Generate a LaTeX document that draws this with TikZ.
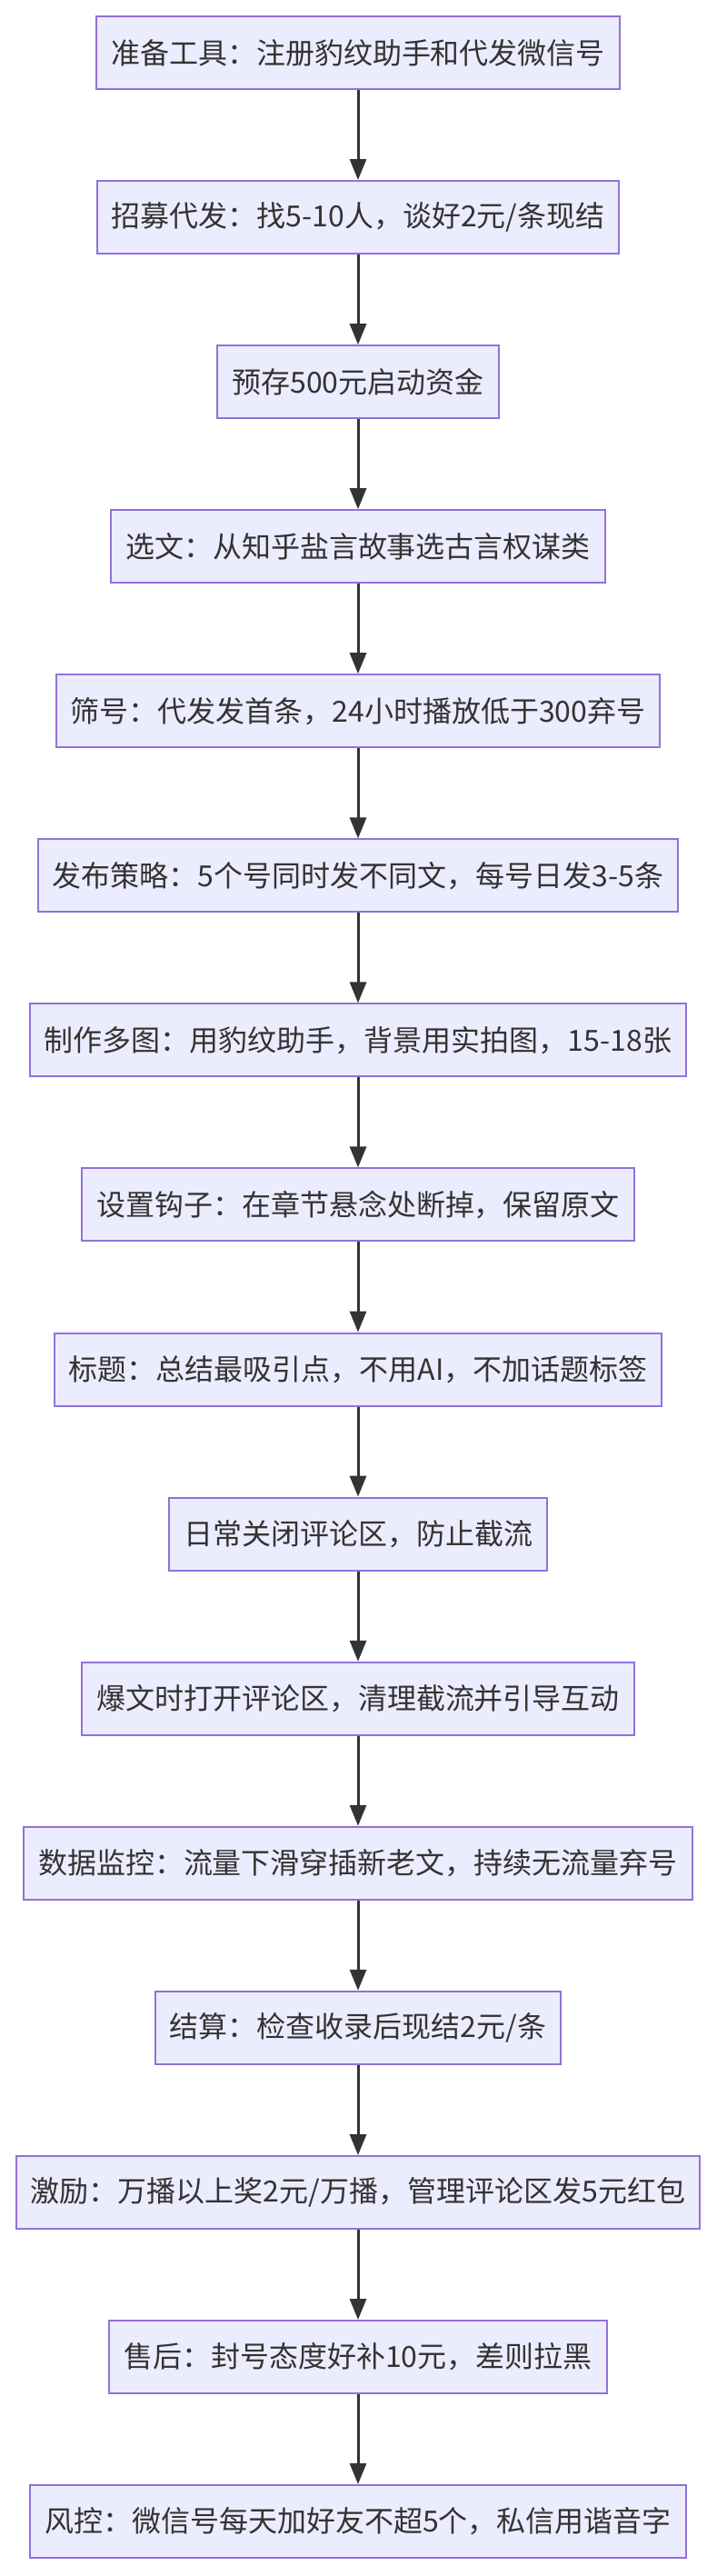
\documentclass[tikz,border=0pt]{standalone}
\usepackage{fontspec}
\newfontfamily\cjk{Noto Sans CJK SC}
\usetikzlibrary{arrows.meta}
\definecolor{boxfill}{HTML}{ECECFF}
\definecolor{boxline}{HTML}{9370DB}
\definecolor{inkgray}{HTML}{333333}

\begin{document}
\begin{tikzpicture}[
    x=1pt, y=1pt,
    every node/.style={font=\cjk\fontsize{16}{19}\selectfont, text=inkgray},
    stepbox/.style={draw=boxline, fill=boxfill, line width=1pt,
        minimum height=40pt, inner xsep=8pt},
    flow/.style={draw=inkgray, line width=1.5pt,
        -{Triangle[length=11.5pt,width=9pt]}}
]
\useasboundingbox (0,0) rectangle (394,-1417);

% Preparation
\node[stepbox] (tools) at (197,-29) {准备工具：注册豹纹助手和代发微信号};
\node[stepbox] (recruit) at (197,-119.5) {招募代发：找5-10人，谈好2元/条现结};
\node[stepbox] (fund) at (197,-210.1) {预存500元启动资金};
\node[stepbox] (pick) at (197,-300.6) {选文：从知乎盐言故事选古言权谋类};

% Posting
\node[stepbox] (filter) at (197,-391.1) {筛号：代发发首条，24小时播放低于300弃号};
\node[stepbox] (plan) at (197,-481.7) {发布策略：5个号同时发不同文，每号日发3-5条};
\node[stepbox] (images) at (197,-572.2) {制作多图：用豹纹助手，背景用实拍图，15-18张};
\node[stepbox] (hook) at (197,-662.7) {设置钩子：在章节悬念处断掉，保留原文};
\node[stepbox] (title) at (197,-753.3) {标题：总结最吸引点，不用AI，不加话题标签};

% Comments and data
\node[stepbox] (closed) at (197,-843.8) {日常关闭评论区，防止截流};
\node[stepbox] (opened) at (197,-934.4) {爆文时打开评论区，清理截流并引导互动};
\node[stepbox] (monitor) at (197,-1024.9) {数据监控：流量下滑穿插新老文，持续无流量弃号};

% Payment and risk
\node[stepbox] (settle) at (197,-1115.4) {结算：检查收录后现结2元/条};
\node[stepbox] (bonus) at (197,-1206.0) {激励：万播以上奖2元/万播，管理评论区发5元红包};
\node[stepbox] (after) at (197,-1296.5) {售后：封号态度好补10元，差则拉黑};
\node[stepbox] (risk) at (197,-1387.0) {风控：微信号每天加好友不超5个，私信用谐音字};

% Arrows
\draw[flow] (tools) -- (recruit);
\draw[flow] (recruit) -- (fund);
\draw[flow] (fund) -- (pick);
\draw[flow] (pick) -- (filter);
\draw[flow] (filter) -- (plan);
\draw[flow] (plan) -- (images);
\draw[flow] (images) -- (hook);
\draw[flow] (hook) -- (title);
\draw[flow] (title) -- (closed);
\draw[flow] (closed) -- (opened);
\draw[flow] (opened) -- (monitor);
\draw[flow] (monitor) -- (settle);
\draw[flow] (settle) -- (bonus);
\draw[flow] (bonus) -- (after);
\draw[flow] (after) -- (risk);

\end{tikzpicture}
\end{document}
